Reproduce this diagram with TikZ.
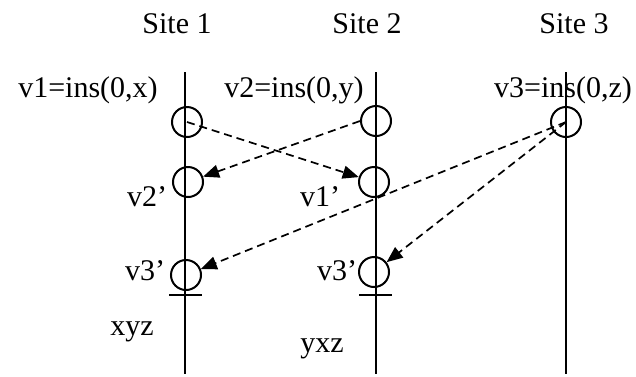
\documentclass[tikz,border=0pt]{standalone}
\usepackage{fontspec}
\setmainfont{Liberation Serif}
\usetikzlibrary{arrows.meta, positioning}

\begin{document}
\begin{tikzpicture}[
    x=1pt, y=-1pt,
    every node/.style = {font=\fontsize{30}{36}\selectfont},
    site/.style = {line width=2pt},
    event/.style = {
        draw, circle, line width=2pt,
        minimum size=30pt, inner sep=0pt
    },
    lbl/.style = {anchor=base, inner sep=0pt},
    msg/.style = {
        -{Triangle[length=16pt, width=13pt]}, line width=1.7pt,
        dash pattern=on 8pt off 5pt
    },
]
\useasboundingbox (0,0) rectangle (636,376);

%% ── Sites ────────────────────────────────────────────────────────────
\node[lbl] (s1) at (177, 33) {Site 1};
\node[lbl] (s2) at (367, 33) {Site 2};
\node[lbl] (s3) at (574, 33) {Site 3};

\coordinate (s1top) at (185, 72);  \coordinate (s1bot) at (185, 374);
\coordinate (s2top) at (376, 72);  \coordinate (s2bot) at (376, 374);
\coordinate (s3top) at (566, 72);  \coordinate (s3bot) at (566, 374);

\draw[site] (s1top) -- (s1bot);
\draw[site] (s2top) -- (s2bot);
\draw[site] (s3top) -- (s3bot);

%% ── Events ───────────────────────────────────────────────────────────
\node[event] (v1)  at (187, 122) {};
\node[event] (v2p) at (188, 182) {};
\node[event] (v3a) at (186, 275) {};

\node[event] (v2)  at (376, 121) {};
\node[event] (v1p) at (374, 182) {};
\node[event] (v3b) at (374, 272) {};

\node[event] (v3)  at (566, 122) {};

%% end of integration marks
\coordinate (b1l) at (169, 295);  \coordinate (b1r) at (202, 295);
\coordinate (b2l) at (359, 295);  \coordinate (b2r) at (392, 295);
\draw[site] (b1l) -- (b1r);
\draw[site] (b2l) -- (b2r);

%% ── Labels ───────────────────────────────────────────────────────────
\node[lbl] (lv1)  at (88, 97)   {v1=ins(0,x)};
\node[lbl] (lv2)  at (294, 97)  {v2=ins(0,y)};
\node[lbl] (lv3)  at (563, 97)  {v3=ins(0,z)};
\node[lbl] (lv2p) at (147, 206) {v2’};
\node[lbl] (lv1p) at (320, 206) {v1’};
\node[lbl] (lv3a) at (145, 280) {v3’};
\node[lbl] (lv3b) at (337, 280) {v3’};
\node[lbl] (st1)  at (132, 335) {xyz};
\node[lbl] (st2)  at (322, 352) {yxz};

%% ── Messages ─────────────────────────────────────────────────────────
\draw[msg] (v1.center) -- (v1p);
\draw[msg] (v2.west) -- (v2p);
\draw[msg] (v3.center) -- (v3a);
\draw[msg] (v3.center) -- (v3b);

\end{tikzpicture}
\end{document}
